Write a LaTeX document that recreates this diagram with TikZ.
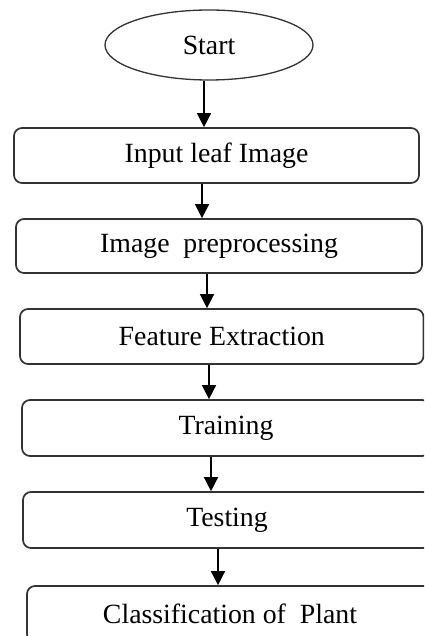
\documentclass[tikz,border=0pt]{standalone}
\usepackage{fontspec}
\setmainfont{Liberation Serif}
\usetikzlibrary{arrows.meta,shapes.geometric}
\tikzset{
  box/.style={draw=black!80, line width=1.7pt, rounded corners=8pt, fill=white,
    minimum height=55pt, inner sep=0pt, font=\fontsize{27.8}{32}\selectfont},
  oval/.style={ellipse, draw=black!80, line width=1.3pt, inner sep=0pt,
    minimum width=208pt, minimum height=70pt, font=\fontsize{27.8}{32}\selectfont},
  arr/.style={draw=black, line width=1.5pt, -{Triangle[width=14pt,length=14pt]}}
}
\begin{document}
\begin{tikzpicture}[x=1pt,y=-1pt]
\useasboundingbox (0,0) rectangle (424,636);
\clip (0,0) rectangle (424,636);
\node[oval] (start) at (209,45) {Start};
\node[box, minimum width=405pt, minimum height=55pt] (b1) at (216.5,155.5) {Input leaf Image};
\node[box, minimum width=406pt, minimum height=54pt] (b2) at (219,246) {Image\ \ preprocessing};
\node[box, minimum width=403.5pt, minimum height=55pt] (b3) at (221.75,336.5) {Feature Extraction};
\node[box, minimum width=408pt, minimum height=56pt] (b4) at (226,428) {Training};
\node[box, minimum width=408pt, minimum height=56pt] (b5) at (227,520) {Testing};
\node[box, minimum width=406pt, minimum height=56pt] (b6) at (230,614) {Classification of\ \ Plant};
\draw[arr] ([xshift=-5pt]start.south) -- ([xshift=-5pt]start.south |- b1.north);
\draw[arr] ([xshift=-14.5pt]b1.south) -- ([xshift=-14.5pt]b1.south |- b2.north);
\draw[arr] ([xshift=-12pt]b2.south) -- ([xshift=-12pt]b2.south |- b3.north);
\draw[arr] ([xshift=-12.75pt]b3.south) -- ([xshift=-12.75pt]b3.south |- b4.north);
\draw[arr] ([xshift=-15pt]b4.south) -- ([xshift=-15pt]b4.south |- b5.north);
\draw[arr] ([xshift=-9pt]b5.south) -- ([xshift=-9pt]b5.south |- b6.north);
\end{tikzpicture}
\end{document}
